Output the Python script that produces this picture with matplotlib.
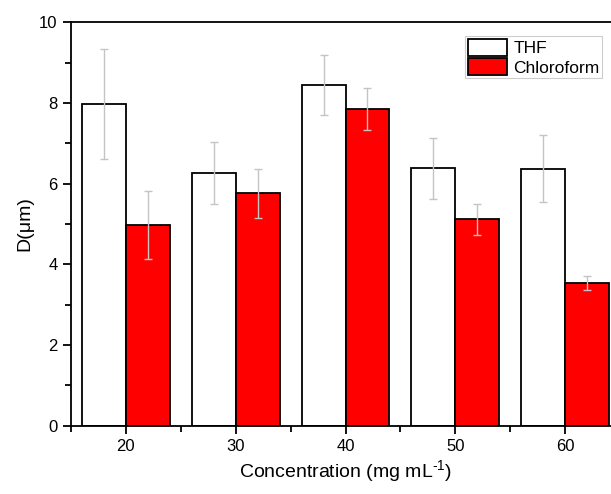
import matplotlib.pyplot as plt
from matplotlib.ticker import MultipleLocator

plt.rcParams['font.family'] = ['Liberation Sans', 'DejaVu Sans']
plt.rcParams['mathtext.fontset'] = 'custom'
plt.rcParams['mathtext.rm'] = 'Liberation Sans'
plt.rcParams['mathtext.it'] = 'Liberation Sans'

# concentrations (mg/mL) and mean diameters with error
conc = [20, 30, 40, 50, 60]
thf = [7.97, 6.27, 8.45, 6.38, 6.37]
thf_err = [1.36, 0.77, 0.74, 0.76, 0.83]
chloroform = [4.98, 5.76, 7.85, 5.12, 3.54]
chloroform_err = [0.84, 0.60, 0.52, 0.38, 0.18]

fig = plt.figure(figsize=(6.11, 4.94), dpi=100)
ax = fig.add_axes([0.116, 0.138, 0.899, 0.817])

width = 4
ekw = dict(ecolor='#c4c4c4', elinewidth=1, capsize=3, capthick=1)
ax.bar([c - width / 2 for c in conc], thf, width, yerr=thf_err,
       color='white', edgecolor='black', linewidth=1.3, label='THF',
       error_kw=ekw)
ax.bar([c + width / 2 for c in conc], chloroform, width, yerr=chloroform_err,
       color='#ff0000', edgecolor='black', linewidth=1.3, label='Chloroform',
       error_kw=ekw)

ax.set_xlim(15, 65)
ax.set_ylim(0, 10)
ax.set_xticks(conc)
ax.xaxis.set_minor_locator(MultipleLocator(5))
ax.yaxis.set_major_locator(MultipleLocator(2))
ax.yaxis.set_minor_locator(MultipleLocator(1))
ax.tick_params(which='major', direction='out', length=6, width=1.3, labelsize=12)
ax.tick_params(which='minor', direction='out', length=4, width=1.3)
for s in ax.spines.values():
    s.set_linewidth(1.3)

ax.set_xlabel('Concentration (mg mL$^{\\mathregular{\u2010}1}$)', fontsize=14,
              labelpad=3)
ax.set_ylabel('D(μm)', fontsize=14)

leg = ax.legend(loc='upper right', bbox_to_anchor=(0.967, 0.966), fontsize=12.5,
                fancybox=False, framealpha=1, edgecolor='#cccccc',
                handlelength=2.25, handleheight=1.15, handletextpad=0.35,
                borderpad=0.15, labelspacing=0.12, borderaxespad=0)
leg.get_frame().set_linewidth(0.8)

fig.savefig('out.png', dpi=100)
